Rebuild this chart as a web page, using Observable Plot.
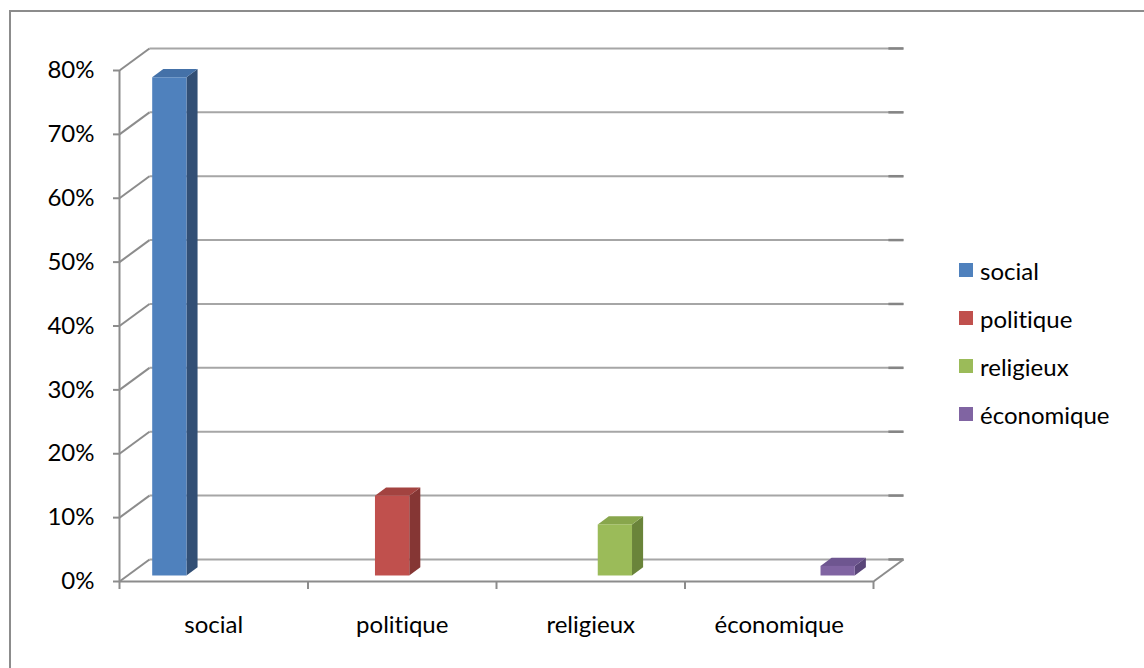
<!DOCTYPE html>
<html>
<head>
<meta charset="utf-8">
<script src="https://cdn.jsdelivr.net/npm/d3@7"></script>
<script src="https://cdn.jsdelivr.net/npm/@observablehq/plot@0.6"></script>
<style>
  html, body { margin: 0; padding: 0; background: #fff; overflow: hidden; }
  #wrap { position: relative; width: 1144px; height: 668px; overflow: hidden; }
  #border { position: absolute; left: 9px; top: 10px; width: 1200px; height: 700px; border: 2px solid #8c8c8c; box-sizing: border-box; }
  #chart { position: absolute; left: 0; top: 0; }
  #legend { position: absolute; left: 959px; top: 0; font-family: Lato, "Open Sans", sans-serif; font-size: 24px; color: #000; }
  #legend, #chart svg, #chart text { font-variant-ligatures: none; font-feature-settings: "liga" 0, "clig" 0; }
  .item { position: absolute; left: 0; white-space: nowrap; display: flex; align-items: center; height: 30px; }
  .sw { width: 14px; height: 14px; margin-right: 7px; }
</style>
</head>
<body>
<div id="wrap">
  <div id="border"></div>
  <div id="chart"></div>
  <div id="legend"></div>
</div>
<script>
// ---- data ----
const categories = ["social", "politique", "religieux", "économique"];
const values = [0.78, 0.125, 0.08, 0.015];
const frontColors = ["#4f81bd", "#c0504d", "#9bbb59", "#8064a2"];
const sideColors = ["#324f75", "#853634", "#6a843a", "#5a4679"];
const topColors = ["#4471a8", "#a34340", "#88a64c", "#6e5690"];
const yTicks = [0, 0.1, 0.2, 0.3, 0.4, 0.5, 0.6, 0.7, 0.8];
const xEdges = [0, 1, 2, 3, 4];
const xCenters = [0.5, 1.5, 2.5, 3.5];

// ---- 3D geometry in data units ----
const DEPTH_X = 0.159;   // depth shift along x (category units)
const DEPTH_Y = 0.0345;  // depth shift along y (value units)
const BAR_FRONT = 0.25, BAR_BACK = 0.62; // bar depth fraction
const GAP = 1.5;                          // gap width ratio
const nSeries = categories.length;
const slotW = 1 / (nSeries + GAP);

const bars = categories.map((c, i) => {
  const x1 = i + 0.5 + (i - (nSeries - 1) / 2) * slotW - slotW / 2 + BAR_FRONT * DEPTH_X;
  const x2 = x1 + slotW;
  const y1 = BAR_FRONT * DEPTH_Y;
  const y2 = values[i] + BAR_FRONT * DEPTH_Y;
  return {cat: c, x1, x2, y1, y2, front: frontColors[i], side: sideColors[i], top: topColors[i]};
});
const dd = BAR_BACK - BAR_FRONT;
const sidePts = bars.flatMap(b => [
  {cat: b.cat, x: b.x2, y1: b.y1, y2: b.y2, fill: b.side},
  {cat: b.cat, x: b.x2 + dd * DEPTH_X, y1: b.y1 + dd * DEPTH_Y, y2: b.y2 + dd * DEPTH_Y, fill: b.side}
]);
const topPts = bars.flatMap(b => [
  {cat: b.cat, y: b.y2, x1: b.x1, x2: b.x2, fill: b.top},
  {cat: b.cat, y: b.y2 + dd * DEPTH_Y, x1: b.x1 + dd * DEPTH_X, x2: b.x2 + dd * DEPTH_X, fill: b.top}
]);

const gridColor = "#a6a6a6";
const axisColor = "#8c8c8c";

const chart = Plot.plot({
  width: 1144,
  height: 668,
  marginLeft: 119,
  marginRight: 271,
  marginTop: 70,
  marginBottom: 87,
  x: {domain: [0, 4], type: "linear"},
  y: {domain: [0, 0.8], type: "linear"},
  style: {fontFamily: "Lato, 'Open Sans', sans-serif", fontSize: "24px", color: "#000", background: "transparent"},
  marks: [
    // back wall gridlines
    Plot.link(yTicks, {x1: DEPTH_X, x2: 4 + DEPTH_X, y1: d => d + DEPTH_Y, y2: d => d + DEPTH_Y, stroke: gridColor, strokeWidth: 2}),
    // right-end stubs
    Plot.link(yTicks, {x1: 4 + DEPTH_X - 0.08, x2: 4 + DEPTH_X, y1: d => d + DEPTH_Y, y2: d => d + DEPTH_Y, stroke: "#858585", strokeWidth: 2.5}),
    // left wall diagonals
    Plot.link(yTicks, {x1: 0, y1: d => d, x2: DEPTH_X, y2: d => d + DEPTH_Y, stroke: axisColor, strokeWidth: 2}),
    // right floor diagonal
    Plot.link([4], {x1: d => d, y1: 0, x2: d => d + DEPTH_X, y2: DEPTH_Y, stroke: axisColor, strokeWidth: 2}),
    // front floor edge & vertical axis
    Plot.ruleY([0], {x1: 0, x2: 4, stroke: axisColor, strokeWidth: 2}),
    Plot.ruleX([0], {y1: 0, y2: 0.8, stroke: axisColor, strokeWidth: 2}),
    // axes
    Plot.axisY({ticks: yTicks, tickFormat: d3.format(".0%"), tickSize: 6, tickPadding: 19, stroke: axisColor, strokeWidth: 2, fill: "#000", fontSize: 24}),
    Plot.axisX({ticks: xEdges, tickFormat: () => "", tickSize: 8, stroke: axisColor, strokeWidth: 2}),
    Plot.axisX({ticks: xCenters, tickFormat: d => categories[Math.floor(d)], tickSize: 0, tickPadding: 34, fill: "#000", fontSize: 24}),
    // bars
    Plot.areaY(sidePts, {x: "x", y1: "y1", y2: "y2", z: "cat", fill: "fill", curve: "linear"}),
    Plot.areaX(topPts, {y: "y", x1: "x1", x2: "x2", z: "cat", fill: "fill", curve: "linear"}),
    Plot.rect(bars, {x1: "x1", x2: "x2", y1: "y1", y2: "y2", fill: "front"})
  ]
});
document.getElementById("chart").appendChild(chart);

// legend
const legendTops = [270, 318, 366, 414];
const legend = d3.select("#legend");
categories.forEach((c, i) => {
  const it = legend.append("div").attr("class", "item").style("top", (legendTops[i] - 15) + "px");
  it.append("div").attr("class", "sw").style("background", frontColors[i]);
  it.append("span").text(c);
});
</script>
</body>
</html>
